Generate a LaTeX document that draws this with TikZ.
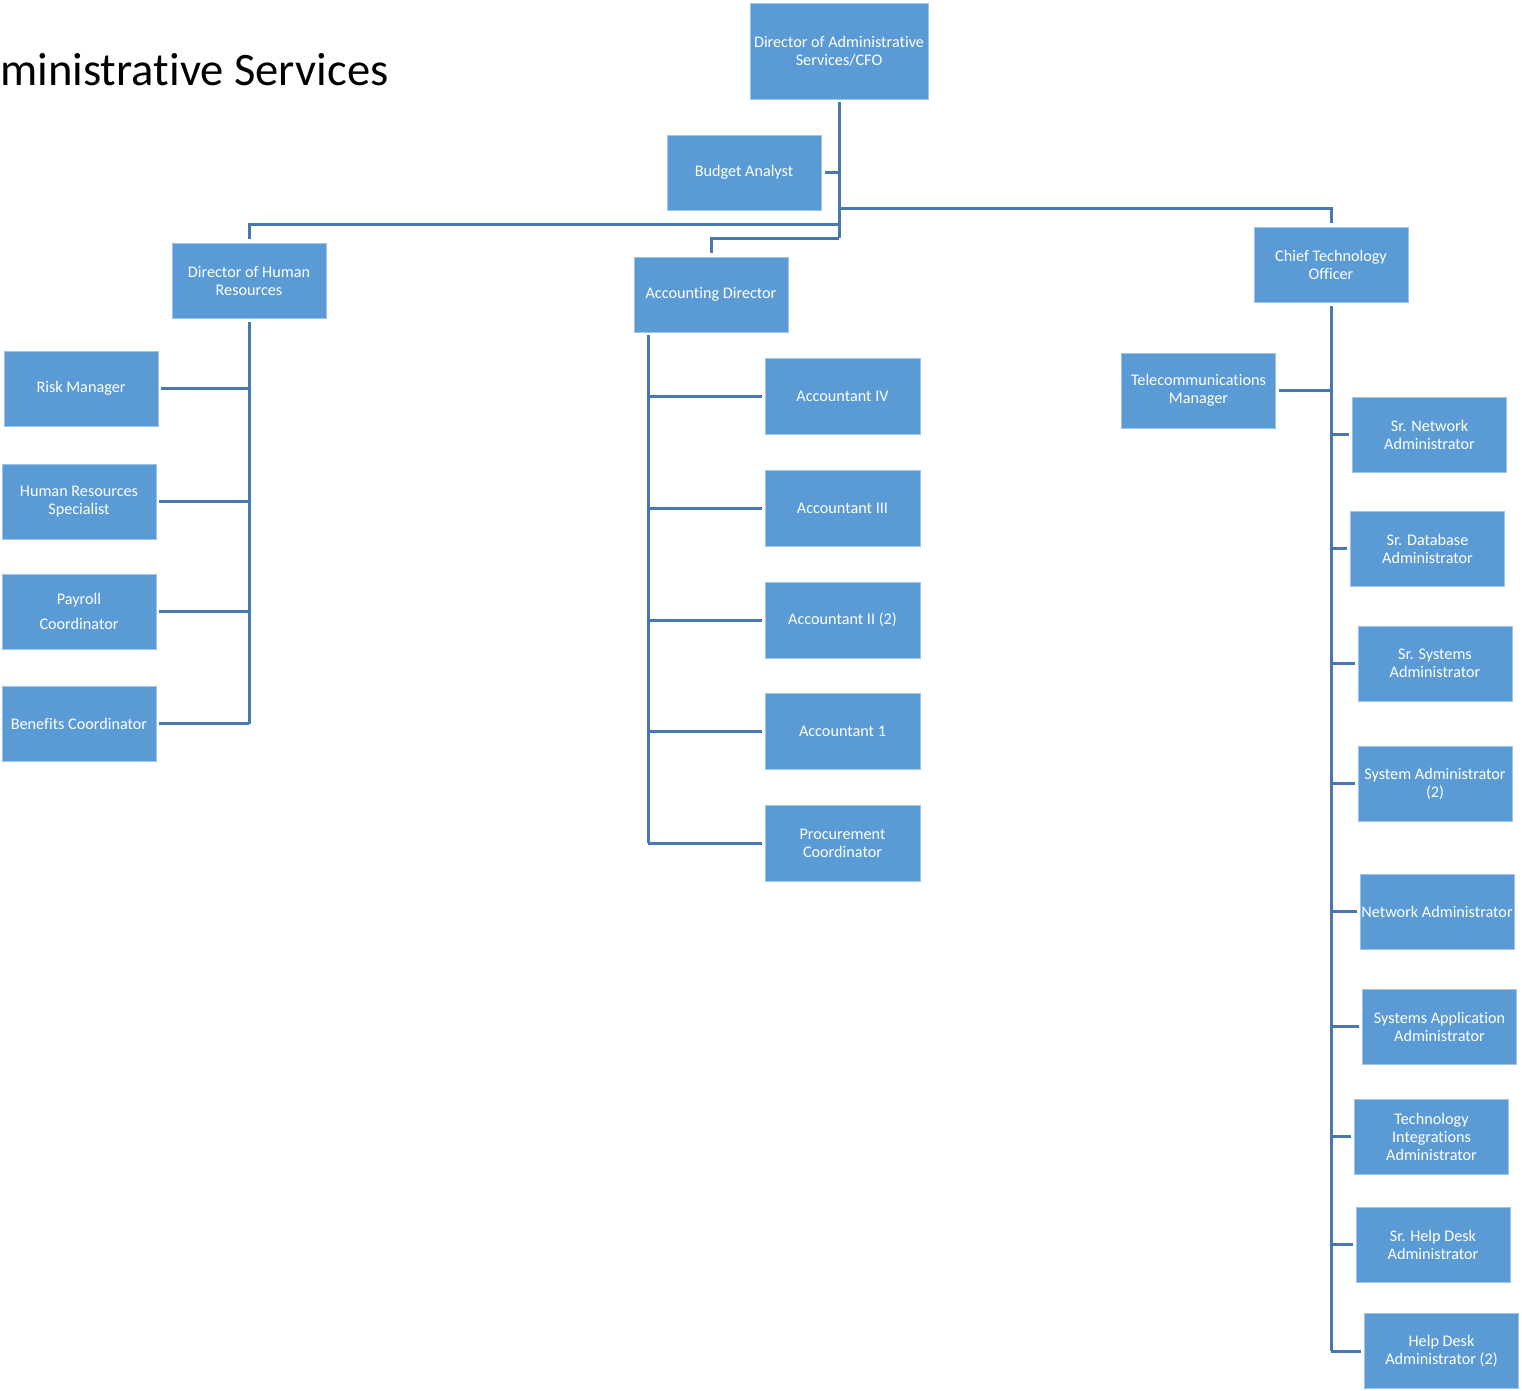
\documentclass[tikz,border=0pt]{standalone}
\usepackage{fontspec}
\setmainfont{Carlito}[RawFeature=-liga]
\definecolor{boxblue}{HTML}{5B9BD5}
\definecolor{boxedge}{HTML}{9DC3E6}
\definecolor{linkblue}{HTML}{4677B0}
\begin{document}
\begin{tikzpicture}[x=1pt,y=-1pt,
  box/.style={rectangle, fill=boxblue, draw=boxedge, line width=0.8pt,
    inner sep=0pt, minimum width=154pt, minimum height=75pt,
    align=center, text=white, font=\fontsize{16.2}{18}\selectfont},
  link/.style={draw=linkblue, line width=3pt}]
\useasboundingbox (0,0) rectangle (1522,1390);

% heading
\node[anchor=base west, inner sep=0pt, font=\fontsize{46.6}{50}\selectfont] (title) at (0,85.5) {ministrative Services};

% top level
\node[box, minimum width=178pt, minimum height=96pt] (cfo) at (839,51) {Director of Administrative\\Services/CFO};
\node[box] (ba) at (744,172.5) {Budget Analyst};

% second level
\node[box] (hr) at (249,280.5) {Director of Human\\Resources};
\node[box] (acc) at (711,294.5) {Accounting Director};
\node[box] (cto) at (1331,264.5) {Chief Technology\\Officer};

% human resources
\node[box] (rm) at (81,388.5) {Risk Manager};
\node[box] (hrs) at (79,501.5) {Human Resources\\Specialist};
\node[box, font=\fontsize{16.2}{25}\selectfont] (pay) at (79,611.5) {Payroll\\Coordinator};
\node[box] (ben) at (79,723.5) {Benefits Coordinator};

% accounting
\node[box, minimum width=155pt, minimum height=76pt] (a4) at (842.5,396) {Accountant IV};
\node[box, minimum width=155pt, minimum height=76pt] (a3) at (842.5,508) {Accountant III};
\node[box, minimum width=155pt, minimum height=76pt] (a2) at (842.5,620) {Accountant II (2)};
\node[box, minimum width=155pt, minimum height=76pt] (a1) at (842.5,731) {Accountant 1};
\node[box, minimum width=155pt, minimum height=76pt] (pc) at (842.5,843) {Procurement\\Coordinator};

% technology
\node[box] (tel) at (1198.5,390.5) {Telecommunications\\Manager};
\node[box] (snet) at (1429.5,434.5) {Sr. Network\\Administrator};
\node[box] (sdb) at (1427.5,548.5) {Sr. Database\\Administrator};
\node[box] (ssys) at (1435,663.5) {Sr. Systems\\Administrator};
\node[box] (sys) at (1435,783.5) {System Administrator\\(2)};
\node[box] (net) at (1437,911.5) {Network Administrator};
\node[box] (sapp) at (1439.5,1026.5) {Systems Application\\Administrator};
\node[box] (tia) at (1431.5,1136.5) {Technology\\Integrations\\Administrator};
\node[box] (shd) at (1433,1244.5) {Sr. Help Desk\\Administrator};
\node[box] (hd) at (1441.5,1351) {Help Desk\\Administrator (2)};

% junction points of the top spine
\coordinate (spine) at (839,238);
\coordinate (hrbar) at (839,224);
\coordinate (ctobar) at (839,208);
\coordinate (accspine) at (648,335);

% top spine and its branches
\draw[link] ([yshift=-3pt]cfo.south) -- (spine);
\draw[link] ([xshift=4pt]ba.east) -- (ba.east -| spine);
\draw[link] ([yshift=4pt]hr.north) |- (hrbar);
\draw[link] (spine) -| ([yshift=4pt]acc.north);
\draw[link] (ctobar) -| ([yshift=4pt]cto.north);

% human resources branch
\draw[link] ([yshift=-4pt]hr.south) -- (hr.south |- ben.east);
\foreach \n in {rm,hrs,pay,ben}
  \draw[link] ([xshift=3pt]\n.east) -- (\n.east -| hr.south);

% accounting branch
\draw[link] (accspine) -- (accspine |- pc.west);
\foreach \n in {a4,a3,a2,a1,pc}
  \draw[link] (\n.west -| accspine) -- ([xshift=-3pt]\n.west);

% technology branch
\draw[link] ([yshift=-4pt]cto.south) -- (cto.south |- hd.west);
\draw[link] ([xshift=3pt]tel.east) -- (tel.east -| cto.south);
\foreach \n in {snet,sdb,ssys,sys,net,sapp,tia,shd,hd}
  \draw[link] (\n.west -| cto.south) -- ([xshift=-3pt]\n.west);
\end{tikzpicture}
\end{document}
